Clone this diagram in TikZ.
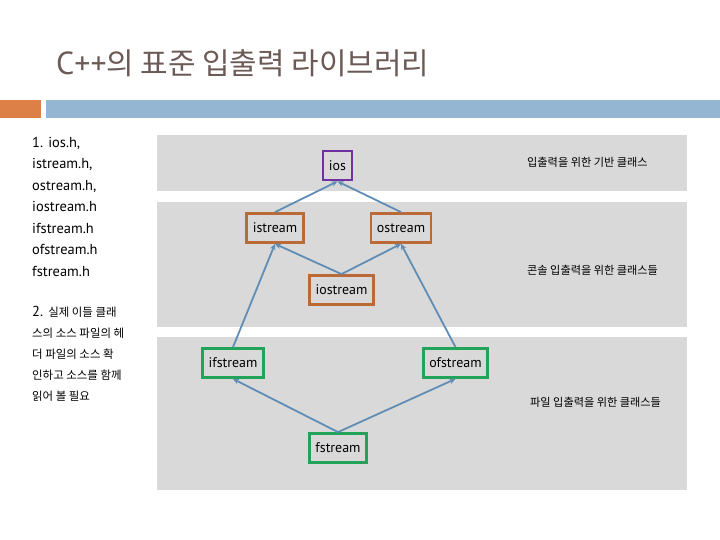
\documentclass[tikz,border=0pt]{standalone}
\usepackage{fontspec}
\setmainfont{PT Sans}
\newfontfamily\krfont{Noto Sans CJK KR}
\usetikzlibrary{arrows.meta}
\definecolor{titlegray}{HTML}{6B5A55}
\definecolor{barorange}{HTML}{DD8047}
\definecolor{barblue}{HTML}{94B6D2}
\definecolor{bandgray}{HTML}{D9D9D9}
\definecolor{basepurple}{HTML}{7030A0}
\definecolor{consolebrown}{HTML}{BA6A36}
\definecolor{filegreen}{HTML}{22A35A}
\definecolor{linkblue}{HTML}{5F8DB5}

\begin{document}
\begin{tikzpicture}
[
  x=1bp, y=-1bp,
  band/.style={fill=bandgray, draw=none},
  cls/.style={draw, line width=2.8bp, fill=bandgray, minimum height=29bp,
    inner xsep=6bp, font=\fontsize{14}{16}\selectfont},
  basecls/.style={cls, draw=basepurple},
  consolecls/.style={cls, draw=consolebrown},
  filecls/.style={cls, draw=filegreen},
  link/.style={draw=linkblue, line width=1.8bp, -{Stealth[length=6bp,width=5.5bp]}},
  note/.style={anchor=west, inner sep=0, font=\krfont\fontsize{11.2}{13}\selectfont}
]
  \useasboundingbox (0,0) rectangle (720,540);

  \node[anchor=base west, inner sep=0, text=titlegray, font=\fontsize{32}{36}\selectfont]
    (title) at (56,75) {C++\krfont\fontsize{30}{32}\selectfont 의 표준 입출력 라이브러리};
  \fill[barorange] (0,100) rectangle (41,118);
  \fill[barblue] (46,100) rectangle (720,118);

  \node[anchor=north west, align=left, inner sep=0, font=\fontsize{14.5}{21.5}\selectfont]
    (headers) at (32,137) {1. ios.h,\\istream.h,\\ostream.h,\\iostream.h\\ifstream.h\\ofstream.h\\fstream.h};
  \node[anchor=north west, align=left, inner sep=0, font=\fontsize{14.5}{21}\selectfont]
    (reading) at (32,306) {2. {\krfont\fontsize{11.5}{12}\selectfont 실제 이들 클래}\\
      {\krfont\fontsize{11.5}{12}\selectfont 스의 소스 파일의 헤}\\
      {\krfont\fontsize{11.5}{12}\selectfont 더 파일의 소스 확}\\
      {\krfont\fontsize{11.5}{12}\selectfont 인하고 소스를 함께}\\
      {\krfont\fontsize{11.5}{12}\selectfont 읽어 볼 필요}};

  \fill[band] (157,135) rectangle (687,191);
  \fill[band] (157,202) rectangle (687,327);
  \fill[band] (157,337) rectangle (687,490);

  \node[note] (basenote) at (527,162) {입출력을 위한 기반 클래스};
  \node[note] (consolenote) at (527,270) {콘솔 입출력을 위한 클래스들};
  \node[note] (filenote) at (530,402) {파일 입출력을 위한 클래스들};

  \node[basecls] (ios) at (337.5,165.5) {ios};
  \node[consolecls] (istream) at (275,228) {istream};
  \node[consolecls] (ostream) at (401,228) {ostream};
  \node[consolecls] (iostream) at (341.5,290) {iostream};
  \node[filecls] (ifstream) at (233,363) {ifstream};
  \node[filecls] (ofstream) at (455.5,363) {ofstream};
  \node[filecls] (fstream) at (338,448) {fstream};

  \draw[link] (istream.north) -- (ios.south);
  \draw[link] (ostream.north) -- (ios.south);
  \draw[link] (iostream.north) -- (istream.south);
  \draw[link] (iostream.north) -- (ostream.south);
  \draw[link] (ifstream.north) -- (istream.south);
  \draw[link] (ofstream.north) -- (ostream.south);
  \draw[link] (fstream.north) -- (ifstream.south);
  \draw[link] (fstream.north) -- (ofstream.south);
\end{tikzpicture}
\end{document}
